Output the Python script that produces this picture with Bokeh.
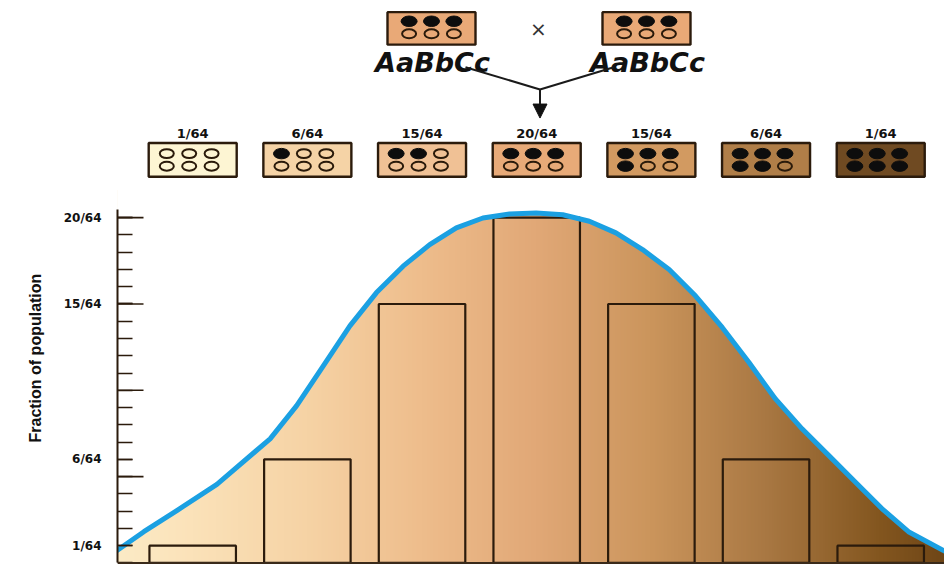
import numpy as np
from bokeh.plotting import figure
from bokeh.models import Range1d, FixedTicker, Arrow, NormalHead, Span, Title
from bokeh.core.properties import value
from bokeh.embed import file_html
from bokeh.resources import INLINE

# ---------------- data ----------------
class_index = [0, 1, 2, 3, 4, 5, 6]            # number of dominant alleles
fraction_numerators = [1, 6, 15, 20, 15, 6, 1]
denominator = 64
fraction_labels = [f"{n}/{denominator}" for n in fraction_numerators]
parent_genotypes = ["AaBbCc", "AaBbCc"]
parent_dominant = [3, 3]

# fitted curve (x in class units, y in /64 units)
curve_x = [-0.66, -0.426, -0.135, 0.211, 0.675, 0.907, 1.139, 1.371, 1.603, 1.835, 2.067,
           2.299, 2.531, 2.763, 2.995, 3.227, 3.459, 3.691, 3.923, 4.155, 4.386,
           4.618, 4.850, 5.082, 5.314, 5.546, 5.778, 6.010, 6.242, 6.544, 6.56]
curve_y = [0.72, 1.81, 3.05, 4.55, 7.19, 9.11, 11.42, 13.73, 15.66, 17.19, 18.44,
           19.41, 19.98, 20.21, 20.27, 20.17, 19.79, 19.12, 18.15, 17.00, 15.46,
           13.64, 11.62, 9.50, 7.77, 6.23, 4.69, 3.15, 1.81, 0.73, 0.68]

y_label_ticks = [1, 6, 15, 20]
y_tick_text = ["1/64", "6/64", "15/64", "20/64"]
y_long_ticks = [5, 10, 15, 20]
y_minor_ticks = list(range(0, 21))

# ---------------- style ----------------
box_colors = ["#fdf5d3", "#f5d3a6", "#f0c195", "#e8aa78", "#d29a61", "#b07e48", "#6f4a22"]
parent_color = "#e9a977"
grad_x = [-0.66, 0.0, 1.0, 2.0, 3.0, 4.0, 5.0, 6.0, 6.56]
grad_colors = ["#fcebc6", "#fbe2b9", "#f6d3a5", "#eebd8c", "#e1a877",
               "#cb955c", "#a97843", "#83561f", "#6f4617"]
ink = "#2b1b0c"
curve_color = "#1ba0e2"

PX_X = 114.67   # px per class unit
PX_Y = 17.33    # px per 1/64
X0, Y0 = 192.2, 564.6   # pixel position of class 0 / count 0


def ux(px):
    return (px - X0) / PX_X


def uy(py):
    return (Y0 - py) / PX_Y


XLO, XHI = ux(117), ux(944)
YLO, YHI = -0.09, uy(0)

p = figure(width=944, height=564, x_range=Range1d(XLO, XHI), y_range=Range1d(YLO, YHI),
           output_backend="svg", toolbar_location=None, x_axis_location=None,
           y_axis_location="left", min_border_left=117, min_border_right=0,
           min_border_top=0, min_border_bottom=0, outline_line_color=None)
p.grid.visible = False
p.background_fill_color = "white"

# gradient fill under the curve
N = 600
gx = np.linspace(XLO, XHI, N)
rgb = np.array([[int(c[k:k + 2], 16) for k in (1, 3, 5)] for c in grad_colors], dtype=float)
img = np.empty((1, N), dtype=np.uint32)
view = img.view(dtype=np.uint8).reshape((1, N, 4))
for ch in range(3):
    view[0, :, ch] = np.interp(gx, grad_x, rgb[:, ch]).astype(np.uint8)
view[0, :, 3] = 255
TOPFILL = 21.6
p.image_rgba(image=[img], x=XLO, y=0, dw=XHI - XLO, dh=TOPFILL)
p.varea(x=curve_x, y1=curve_y, y2=TOPFILL + 0.2, fill_color="white")

# bars
BAR_W = 86.5 / PX_X
p.vbar(x=class_index, top=fraction_numerators, bottom=0, width=BAR_W, fill_alpha=0,
       line_color=ink, line_width=2.2)
p.line(curve_x, curve_y, line_color=curve_color, line_width=5, line_join="round", line_cap="round")
p.add_layout(Span(location=0, dimension="width", line_color="#3a2a1a", line_width=2))

# y axis
ax = p.yaxis[0]
ax.ticker = FixedTicker(ticks=y_label_ticks, minor_ticks=y_minor_ticks)
ax.major_label_overrides = {t: s for t, s in zip(y_label_ticks, y_tick_text)}
ax.bounds = (0, uy(210))
ax.axis_line_color = ink
ax.axis_line_width = 2
ax.major_tick_in = 15
ax.major_tick_out = 0
ax.minor_tick_in = 15
ax.minor_tick_out = 0
ax.major_tick_line_color = ink
ax.minor_tick_line_color = ink
ax.major_tick_line_width = 1.6
ax.minor_tick_line_width = 1.6
ax.major_label_standoff = 16
ax.major_label_text_font = "DejaVu Sans"
ax.major_label_text_font_style = "bold"
ax.major_label_text_font_size = "12px"
ax.major_label_text_color = "#111111"
p.ray(x=XLO, y=y_long_ticks, length=26, length_units="screen", angle=0,
      line_color=ink, line_width=1.6)

ylab = Title(text="Fraction of population", align="left", offset=122, standoff=34,
             text_font="Liberation Sans", text_font_style="bold", text_font_size="16px",
             text_color="#111111")
p.add_layout(ylab, "left")

# offspring boxes
BOX_Y = uy(160)
BOX_H = 34 / PX_Y
BOX_W = 88 / PX_X
p.rect(x=class_index, y=BOX_Y, width=BOX_W, height=BOX_H, fill_color=box_colors,
       line_color=ink, line_width=2.4)
p.text(x=class_index, y=uy(134), text=fraction_labels, text_align="center", text_baseline="middle",
       text_font=value("DejaVu Sans"), text_font_style="bold", text_font_size="13px",
       text_color="#111111")

COL_DX = 22.4 / PX_X
ROW_DY = 6.3 / PX_Y
DOT_W, DOT_H = 16 / PX_X, 10.5 / PX_Y
OPEN_W, OPEN_H = 14 / PX_X, 9 / PX_Y


def dots(cx, cy, k, fill_bg, shift=0.0):
    fx, fy, ox, oy = [], [], [], []
    slot = 0
    for row in (1, -1):
        for col in (-1, 0, 1):
            x = cx + shift + col * COL_DX
            y = cy + row * ROW_DY
            if slot < k:
                fx.append(x); fy.append(y)
            else:
                ox.append(x); oy.append(y)
            slot += 1
    if fx:
        p.ellipse(x=fx, y=fy, width=DOT_W, height=DOT_H, fill_color="#0d0d0d", line_color="#0d0d0d")
    if ox:
        p.ellipse(x=ox, y=oy, width=OPEN_W, height=OPEN_H, fill_color=fill_bg,
                  line_color="#2a1a0a", line_width=2)


for i, k in enumerate(class_index):
    dots(class_index[i], BOX_Y, k, box_colors[i], shift=-3.5 / PX_X)

# parents
parent_x = [ux(431), ux(646)]
PARENT_Y = uy(28)
p.rect(x=parent_x, y=PARENT_Y, width=88 / PX_X, height=32.6 / PX_Y, fill_color=parent_color,
       line_color=ink, line_width=2.4)
for px_, k in zip(parent_x, parent_dominant):
    dots(px_, PARENT_Y + 0.05, k, parent_color)
p.text(x=[ux(432), ux(647)], y=uy(62), text=parent_genotypes, text_align="center",
       text_baseline="alphabetic", text_font=value("DejaVu Sans"), text_font_style="bold italic",
       text_font_size="27px", text_color="#111111")
p.text(x=[ux(538)], y=[uy(29)], text=["×"], text_align="center", text_baseline="middle",
       text_font=value("DejaVu Sans"), text_font_size="20px", text_color="#333333")

JX, JY = ux(539.5), uy(89.3)
p.segment(x0=[ux(465), ux(613.3)], y0=[uy(67), uy(67)], x1=[JX, JX], y1=[JY, JY],
          line_color="#1a1a1a", line_width=2)
p.add_layout(Arrow(end=NormalHead(size=14, fill_color="#111111", line_color="#111111"),
                   x_start=JX, y_start=JY, x_end=JX, y_end=uy(118),
                   line_color="#1a1a1a", line_width=2))

open("out.html", "w").write(file_html(p, INLINE))
